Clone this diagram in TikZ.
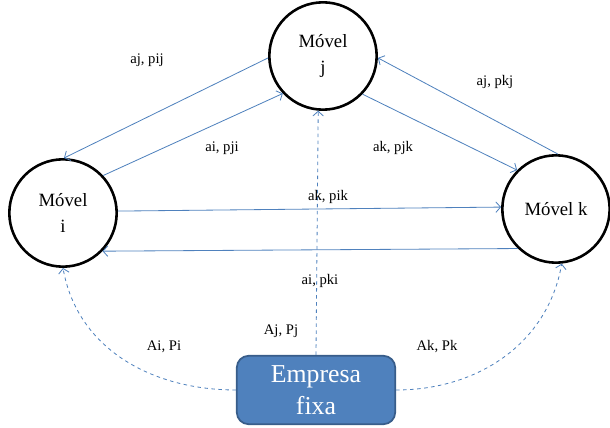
\documentclass[tikz,border=0pt]{standalone}
\usepackage{fontspec}
\setmainfont{Liberation Serif}
\usetikzlibrary{arrows.meta}
\definecolor{linkblue}{RGB}{79,129,189}
\definecolor{boxblue}{RGB}{79,129,189}
\definecolor{boxedge}{RGB}{56,93,138}
\tikzset{
  movel/.style={circle, draw=black, line width=2.2pt, minimum size=3.22cm,
                inner sep=0pt, align=center, font=\fontsize{16}{20}\selectfont},
  link/.style={draw=linkblue, line width=0.7pt, -{Straight Barb[length=4pt,width=9pt]}},
  dlink/.style={link, dashed},
  lbl/.style={font=\fontsize{12.5}{14}\selectfont}
}
\begin{document}
\begin{tikzpicture}[x=0.03cm, y=-0.03cm]
                \useasboundingbox (0,0) rectangle (610,428);
                % moveis
                \node[movel] (movi) at (63,213) {M\'ovel\\[2pt] i};
                \node[movel] (movj) at (323,56) {M\'ovel\\[2pt] j};
                \node[movel] (movk) at (556,209) {M\'ovel k};
                \node[rectangle, rounded corners=10pt, fill=boxblue, draw=boxedge, line width=1.5pt,
                      minimum width=4.75cm, minimum height=2.05cm, align=center, text=white,
                      font=\fontsize{22}{27}\selectfont] (empresa) at (316,390) {Empresa\\fixa};
                % ligacoes entre moveis
                \draw[link] (movj.182) -- (movi.89);
                \draw[link] (movi.43) -- (movj.223);
                \draw[link] (movk.88) -- (movj.358);
                \draw[link] (movj.316) -- (movk.135);
                \draw[link] (movi.2) -- (movk.178);
                \draw[link] (movk.226) -- (movi.316);
                % ligacoes da empresa
                \draw[dlink] (empresa.north) -- (movj.265);
                \draw[dlink] (empresa.west) to[out=180, in=-80] (movi.south);
                \draw[dlink] (empresa.east) to[out=0, in=-100] (movk.-84);
                % rotulos
                \node[lbl] at (147,60) {aj, pij};
                \node[lbl] at (222,148) {ai, pji};
                \node[lbl] at (495,82) {aj, pkj};
                \node[lbl] at (393,148) {ak, pjk};
                \node[lbl] at (328,197) {ak, pik};
                \node[lbl] at (320,281) {ai, pki};
                \node[lbl] at (164,347) {Ai, Pi};
                \node[lbl] at (281,331) {Aj, Pj};
                \node[lbl] at (437,347) {Ak, Pk};
            \end{tikzpicture}
\end{document}
